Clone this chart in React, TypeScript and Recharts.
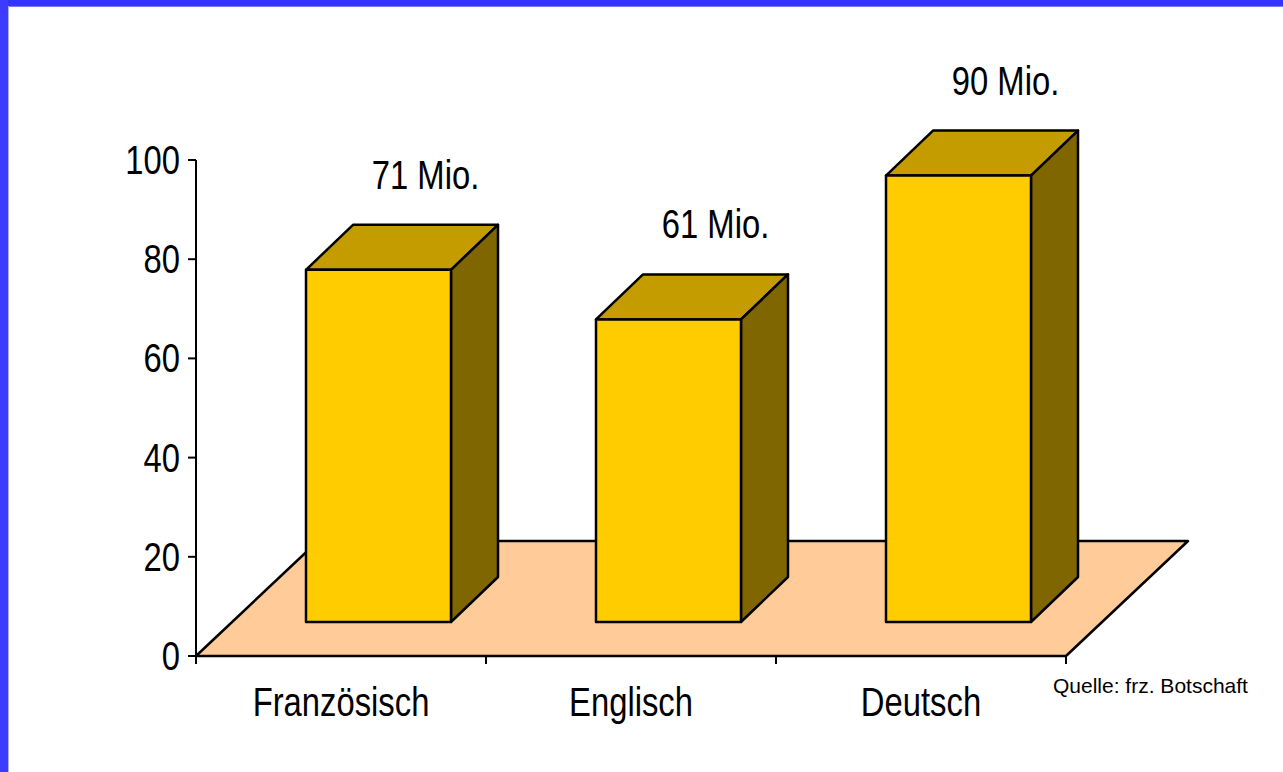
import { BarChart, Bar, XAxis, YAxis, ReferenceArea, LabelList } from 'recharts';

const categories = ['Französisch', 'Englisch', 'Deutsch'];
const speakers = [71, 61, 90];
const yTicks = [0, 20, 40, 60, 80, 100];
const sourceNote = 'Quelle: frz. Botschaft';

const data = categories.map((name, i) => ({ name, value: speakers[i] }));

const FONT = '"Liberation Sans", Arial, sans-serif';
// no narrow font installed, so squeeze the regular one
const SQUEEZE = 0.82;

// 3d look: box depth and how far back on the floor the boxes stand
const DX = 47;
const DY = 45;
const SHIFT_X = 37;
const SHIFT_Y = 34;
const FLOOR_DX = 122;
const FLOOR_DY = 115;

const NarrowText = ({ x, y, anchor, children }: any) => (
    <text
        transform={`translate(${x},${y}) scale(${SQUEEZE},1)`}
        textAnchor={anchor}
        fontFamily={FONT}
        fontSize={40}
        fill="#000"
    >
        {children}
    </text>
);

const Box3D = (props: any) => {
    const { x, y, width, height } = props;
    const fx = x + SHIFT_X;
    const fy = y - SHIFT_Y;
    const bottom = fy + height;
    return (
        <g stroke="#000" strokeWidth={2.5} strokeLinejoin="round">
            <polygon
                points={`${fx},${fy} ${fx + DX},${fy - DY} ${fx + width + DX},${fy - DY} ${fx + width},${fy}`}
                fill="#c49c00"
            />
            <polygon
                points={`${fx + width},${fy} ${fx + width + DX},${fy - DY} ${fx + width + DX},${bottom - DY} ${fx + width},${bottom}`}
                fill="#806600"
            />
            <rect x={fx} y={fy} width={width} height={height} fill="#ffcc00" />
        </g>
    );
};

const Floor = (props: any) => {
    const { x, y, width, height } = props;
    const front = y + height;
    return (
        <polygon
            points={`${x},${front} ${x + width},${front} ${x + width + FLOOR_DX},${front - FLOOR_DY} ${x + FLOOR_DX},${front - FLOOR_DY}`}
            fill="#ffcc99"
            stroke="#000"
            strokeWidth={2.5}
            strokeLinejoin="round"
        />
    );
};

const renderValueLabel = (props: any) => {
    const { x, y, width, value } = props;
    return (
        <NarrowText x={x + SHIFT_X + DX + width / 2} y={y - SHIFT_Y - DY - 36} anchor="middle">
            {`${value} Mio.`}
        </NarrowText>
    );
};

const ValueTick = (props: any) => {
    const { x, y, payload } = props;
    return (
        <NarrowText x={x} y={y + 14} anchor="end">
            {payload.value}
        </NarrowText>
    );
};

const CategoryTick = (props: any) => {
    const { x, y, payload, index } = props;
    const half = payload?.offset || 145;
    const axisY = y - 8;
    return (
        <g>
            <line x1={x - half} y1={axisY} x2={x - half} y2={axisY + 8} stroke="#000" strokeWidth={2} />
            {index === categories.length - 1 && (
                <line x1={x + half} y1={axisY} x2={x + half} y2={axisY + 8} stroke="#000" strokeWidth={2} />
            )}
            <NarrowText x={x} y={axisY + 60} anchor="middle">
                {payload.value}
            </NarrowText>
        </g>
    );
};

export default function App() {
    return (
        <div style={{ position: 'fixed', left: 0, top: 0, width: 1283, height: 772, backgroundColor: '#ffffff', overflow: 'hidden' }}>
            <div style={{ position: 'absolute', left: 0, top: 0 }}>
                <BarChart
                    width={1283}
                    height={772}
                    data={data}
                    margin={{ top: 160, right: 217, bottom: 56, left: 136 }}
                    barSize={145}
                >
                    <YAxis
                        type="number"
                        domain={[0, 100]}
                        ticks={yTicks}
                        width={60}
                        axisLine={{ stroke: '#000', strokeWidth: 2 }}
                        tickLine={{ stroke: '#000', strokeWidth: 2 }}
                        tickSize={8}
                        tickMargin={8}
                        tick={<ValueTick />}
                    />
                    <XAxis
                        dataKey="name"
                        height={60}
                        axisLine={{ stroke: '#000', strokeWidth: 2 }}
                        tickLine={false}
                        tickSize={8}
                        tickMargin={0}
                        interval={0}
                        tick={<CategoryTick />}
                    />
                    <ReferenceArea y1={0} y2={20} ifOverflow="visible" shape={<Floor />} />
                    <Bar dataKey="value" shape={<Box3D />} isAnimationActive={false}>
                        <LabelList dataKey="value" content={renderValueLabel} />
                    </Bar>
                </BarChart>
            </div>
            <div style={{ position: 'absolute', left: 1053, top: 674, fontFamily: FONT, fontSize: 21, color: '#000', whiteSpace: 'nowrap' }}>
                {sourceNote}
            </div>
            <div style={{ position: 'absolute', zIndex: 5, left: 0, top: 0, width: 1283, height: 6, backgroundColor: '#3434ff' }} />
            <div style={{ position: 'absolute', zIndex: 5, left: 0, top: 6, width: 1283, height: 1, backgroundColor: '#7a7aff' }} />
            <div style={{ position: 'absolute', zIndex: 6, left: 0, top: 0, width: 8, height: 772, backgroundColor: '#3c3cff' }} />
            <div style={{ position: 'absolute', zIndex: 6, left: 8, top: 6, width: 1, height: 766, backgroundColor: '#b0b0ff' }} />
        </div>
    );
}
